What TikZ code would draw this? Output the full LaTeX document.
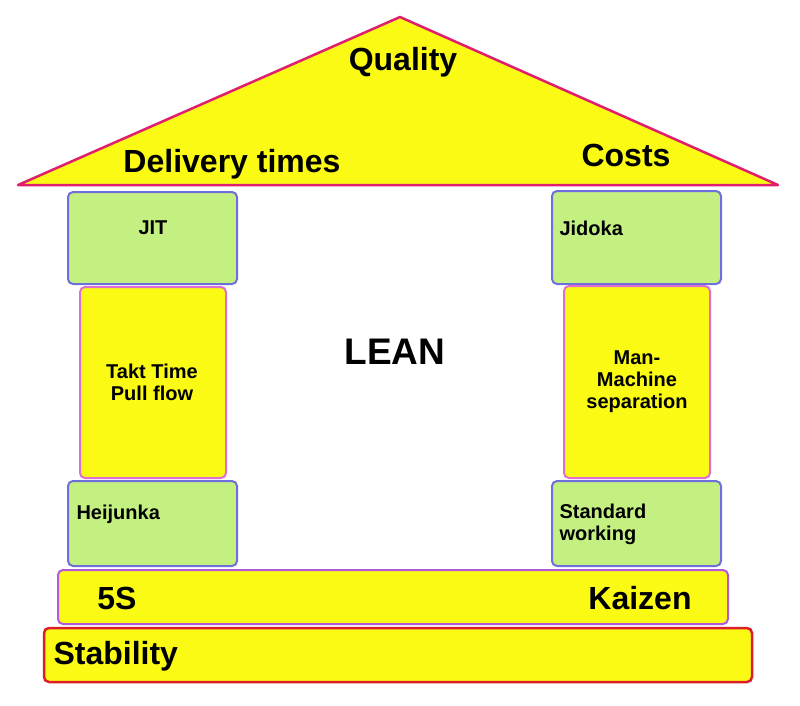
\documentclass[tikz,border=0pt]{standalone}
\usepackage{fontspec}
\setmainfont{Liberation Sans}
\definecolor{roofyel}{RGB}{250,250,20}
\definecolor{pillgreen}{RGB}{196,240,130}
\definecolor{roofline}{RGB}{224,30,110}
\definecolor{blueline}{RGB}{110,110,220}
\definecolor{pinkline}{RGB}{224,110,210}
\definecolor{redline}{RGB}{220,30,40}
\tikzset{
  greenbox/.style={draw=blueline,line width=2pt,fill=pillgreen,rounded corners=5pt},
  yelbox/.style={draw=pinkline,line width=2pt,fill=roofyel,rounded corners=5pt},
  small/.style={font=\fontsize{20}{22}\selectfont\bfseries,align=center},
  big/.style={font=\fontsize{32}{36}\selectfont\bfseries}
}
\begin{document}
\begin{tikzpicture}[x=1pt,y=1pt,yscale=-1]
	\useasboundingbox (0,0) rectangle (800,705);

	% roof
	\draw[fill=roofyel,draw=roofline,line width=2.5pt,line join=round] (18,185) -- (400,17) -- (778,185) -- cycle;
	\node[big] (quality) at (403,62) {Quality};
	\node[big] (delivery) at (232,164) {Delivery times};
	\node[big] (costs) at (626,155) {Costs};

	% left column
	\draw[greenbox] (68,192) rectangle (237,284);
	\draw[yelbox] (80,287) rectangle (226,478);
	\draw[greenbox] (68,481) rectangle (237,566);
	\node[small] (jit) at (153,228) {JIT};
	\node[small] (takt) at (152,382) {Takt Time\\Pull flow};
	\node[small,anchor=west] (heijunka) at (73,514) {Heijunka};

	% right column
	\draw[greenbox] (552,191) rectangle (721,284);
	\draw[yelbox] (564,286) rectangle (710,478);
	\draw[greenbox] (552,481) rectangle (721,566);
	\node[small,anchor=west] (jidoka) at (556,228) {Jidoka};
	\node[small] (manmachine) at (637,382) {Man-\\Machine\\separation};
	\node[small,anchor=west,align=left] (standard) at (556,524) {Standard\\working};

	\node[font=\fontsize{37}{40}\selectfont\bfseries] (lean) at (395,352) {LEAN};

	% base
	\draw[fill=roofyel,draw=pinkline!80!blue,line width=2pt,rounded corners=5pt] (58,570) rectangle (728,624);
	\node[big] (fives) at (117,598) {5S};
	\node[big] (kaizen) at (640,598) {Kaizen};
	\draw[fill=roofyel,draw=redline,line width=2.5pt,rounded corners=5pt] (44,628) rectangle (752,682);
	\node[big,anchor=west] (stability) at (50,656) {Stability};
\end{tikzpicture}
\end{document}
